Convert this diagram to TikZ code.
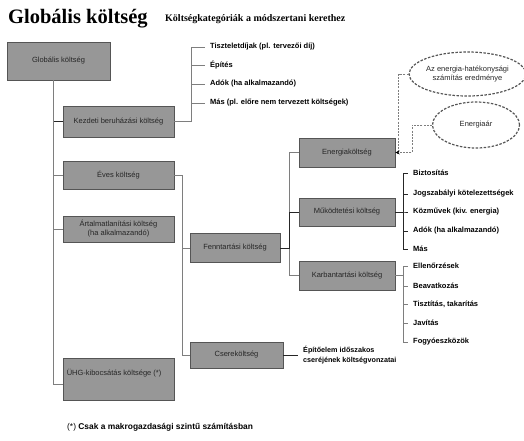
\documentclass[tikz,border=0pt]{standalone}
\usepackage{fontspec}
\setmainfont{Liberation Sans}
\newfontfamily\titlefont{Liberation Serif}
\usetikzlibrary{arrows.meta,shapes.geometric}
\definecolor{boxgray}{HTML}{979797}
\definecolor{boxline}{HTML}{555555}
\definecolor{linegray}{HTML}{7E7E7E}
\definecolor{txt}{HTML}{262626}

\begin{document}
\begin{tikzpicture}[x=1pt,y=-1pt,
	  box/.style={draw=boxline,fill=boxgray,line width=0.9pt,text=txt,font=\fontsize{7.5}{9}\selectfont,align=center,inner sep=0pt,minimum width=111pt},
	  cloud/.style={ellipse,draw=boxline,line width=1.2pt,dash pattern=on 2.5pt off 1.5pt,text=txt,font=\fontsize{7.5}{8.8}\selectfont,align=center,inner sep=0pt},
	  conn/.style={draw=linegray,line width=1pt},
	  dark/.style={draw=black!85}]
	  \tikzstyle{word} = [font=\bfseries\fontsize{7.5}{9.5}\selectfont,text=black,anchor=west,inner xsep=5pt,inner ysep=1pt,align=left]
	  \useasboundingbox (0,0) rectangle (524,440);
	  % titles
	  \node (t_1) [anchor=base west,inner sep=0pt,font=\titlefont\bfseries\fontsize{20.5}{24}\selectfont] at (8,23) {Globális költség};
	  \node (t_2) [anchor=base west,inner sep=0pt,font=\titlefont\bfseries\fontsize{10}{12}\selectfont] at (165,21) {Költségkategóriák a módszertani kerethez};
	  % cost boxes
	  \node (1_1) [box,minimum width=103pt,minimum height=38pt] at (58.5,61) {Globális költség};
	  \node (1_2) [box,minimum height=31pt] at (118.5,121.5) {Kezdeti beruházási költség};
	  \node (1_3) [box,minimum height=28pt] at (118.5,175) {Éves költség};
	  \node (1_4) [box,minimum height=26pt] at (118.5,229) {Ártalmatlanítási költség\\(ha alkalmazandó)};
	  \node (1_5) [box,minimum height=42pt,label={[font=\fontsize{7.5}{9}\selectfont,text=txt,anchor=west,xshift=4pt,yshift=6pt,inner sep=0pt]west:ÜHG-kibocsátás költsége (*)}] at (118.5,379) {};
	  \node (2_1) [box,minimum width=90pt,minimum height=29pt] at (235,248) {Fenntartási költség};
	  \node (2_2) [box,minimum width=93pt,minimum height=26pt] at (236.5,355) {Csereköltség};
	  \node (3_1) [box,minimum width=96pt,minimum height=29pt] at (347,152.5) {Energiaköltség};
	  \node (3_2) [box,minimum width=96pt,minimum height=28pt] at (347,212) {Működtetési költség};
	  \node (3_3) [box,minimum width=96pt,minimum height=29pt] at (347,275.5) {Karbantartási költség};
	  % inputs
	  \node (e_1) [cloud,minimum width=103pt,minimum height=44pt] at (467.5,74) {Az energia-hatékonysági\\számítás eredménye};
	  \node (e_2) [cloud,minimum width=87pt,minimum height=46pt] at (476,125) {Energiaár};
	  % leaves
	  \foreach \n/\y/\t in {1/47/Tiszteletdíjak (pl. tervezői díj),2/65/Építés,3/84/Adók (ha alkalmazandó),4/103/Más (pl. előre nem tervezett költségek)}
	    \node (4_\n) [word] at (205,\y) {\t};
	  \foreach \n/\y/\t in {1/173/Biztosítás,2/194/Jogszabályi kötelezettségek,3/212/Közművek (kiv. energia),4/231/Adók (ha alkalmazandó),5/249/Más}
	    \node (5_\n) [word] at (408,\y) {\t};
	  \foreach \n/\y/\t in {1/266/Ellenőrzések,2/286/Beavatkozás,3/304/{Tisztítás, takarítás},4/323/Javítás,5/342/Fogyóeszközök}
	    \node (6_\n) [word] at (408,\y) {\t};
	  \node (7_1) [word,font=\bfseries\fontsize{7.2}{9.3}\selectfont] at (298,355) {Építőelem időszakos\\cseréjének költségvonzatai};
	  \node (f_1) [anchor=base west,inner sep=0pt,font=\fontsize{8.4}{10}\selectfont] at (67,429) {(*) \textbf{Csak a makrogazdasági szintű számításban}};
	  % connectors
	  \draw[conn,dark] ([xshift=-5.5pt]1_1.south) |- (1_2.west);
	  \draw[conn] ([xshift=-5.5pt]1_1.south) |- (1_3.west);
	  \draw[conn] ([xshift=-5.5pt]1_1.south) |- (1_4.west);
	  \draw[conn] ([xshift=-5.5pt]1_1.south) |- ([yshift=-5pt]1_5.west);
	  \foreach \n in {1,...,4}
	    \draw[conn] (1_2.east) -- ++(17,0) |- (4_\n.west);
	  \draw[conn] (1_3.east) -- ++(8,0) |- (2_1.west);
	  \draw[conn] (1_3.east) -- ++(8,0) |- (2_2.west);
	  \foreach \n in {1,3}
	    \draw[conn] (2_1.east) -- ++(9,0) |- (3_\n.west);
	  \draw[conn,dark] (2_1.east) -- ++(9,0) |- (3_2.west);
	  \foreach \n in {1,...,5}
	    \draw[conn,dark] (3_2.east) -- ++(8,0) |- (5_\n.west);
	  \foreach \n in {1,...,5}
	    \draw[conn] (3_3.east) -- ++(8,0) |- (6_\n.west);
	  \draw[conn,dark] (2_2.east) -- (7_1.west);
	  \draw[conn,line width=0.8pt,dash pattern=on 2pt off 1.2pt,-{Stealth[length=4pt,width=3.5pt,black]}] (e_1.west) -- ++(-10,0) |- (3_1.east);
	  \draw[conn,line width=0.8pt,dash pattern=on 2pt off 1.2pt,-{Stealth[length=4pt,width=3.5pt,black]}] (e_2.west) -- ++(-20,0) |- (3_1.east);
\end{tikzpicture}
\end{document}
